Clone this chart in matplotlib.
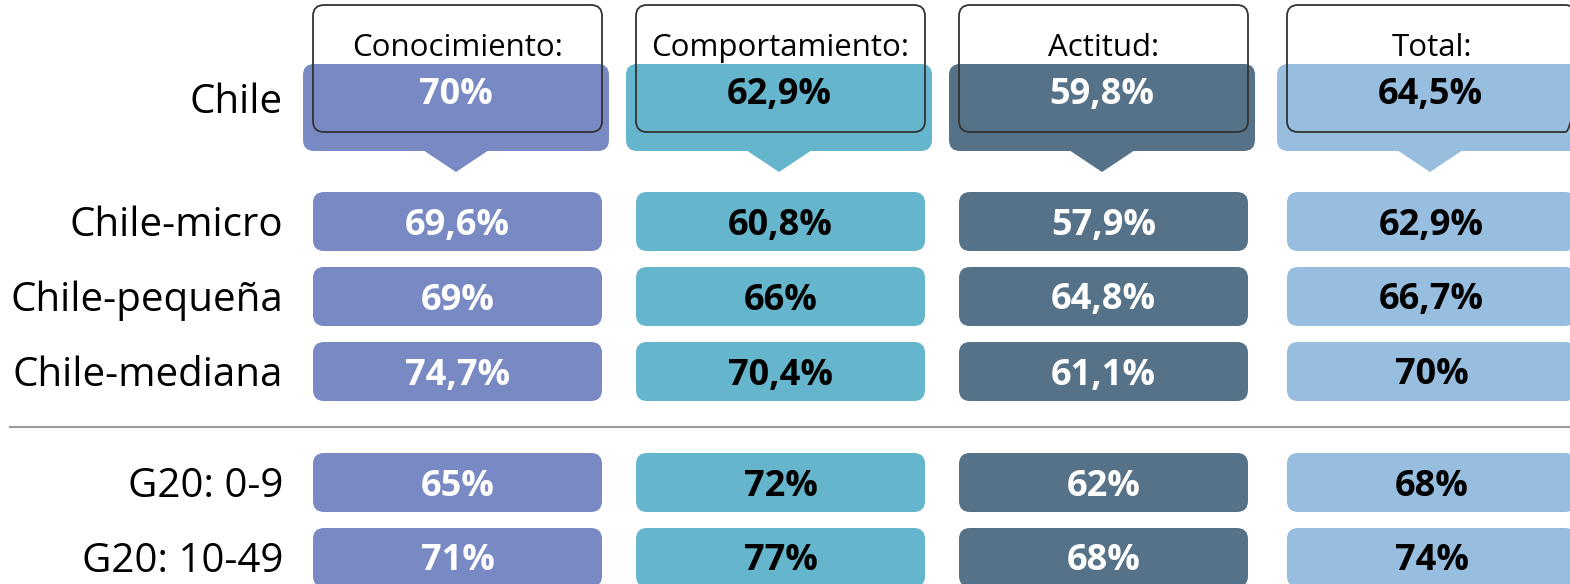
import matplotlib.pyplot as plt
from matplotlib.patches import FancyBboxPatch, Polygon

plt.rcParams["font.family"] = ["Open Sans", "DejaVu Sans"]

# data
dimensions = ["Conocimiento:", "Comportamiento:", "Actitud:", "Total:"]
headline_label = "Chile"
headline_values = ["70%", "62,9%", "59,8%", "64,5%"]
chile_labels = ["Chile-micro", "Chile-pequeña", "Chile-mediana"]
chile_values = [
    ["69,6%", "60,8%", "57,9%", "62,9%"],
    ["69%", "66%", "64,8%", "66,7%"],
    ["74,7%", "70,4%", "61,1%", "70%"],
]
g20_labels = ["G20: 0-9", "G20: 10-49"]
g20_values = [
    ["65%", "72%", "62%", "68%"],
    ["71%", "77%", "68%", "74%"],
]

# styling
fills = ["#7889c4", "#65b5cc", "#557289", "#97bddf"]
text_colors = ["white", "black", "white", "black"]

W, H = 1570, 584
fig = plt.figure(figsize=(W / 100, H / 100), dpi=100)
ax = fig.add_axes([0, 0, 1, 1])
ax.set_xlim(0, W)
ax.set_ylim(H, 0)
ax.axis("off")

col_left = [313, 636, 959, 1287]
box_w = 289
row_h = 59
label_x = 283
dy = 4  # text sits a bit below the box centre


def rounded(x, y, w, h, **kw):
    r = 11
    p = FancyBboxPatch((x + r, y + r), w - 2 * r, h - 2 * r,
                       boxstyle=f"round,pad={r},rounding_size={r}", **kw)
    ax.add_patch(p)
    return p


# headline row with callout boxes
for i, (name, val) in enumerate(zip(dimensions, headline_values)):
    bx = col_left[i] - 10
    bw = box_w + 17
    rounded(bx, 64, bw, 87, facecolor=fills[i], edgecolor="none", zorder=2)
    cx = bx + bw / 2
    ax.add_patch(Polygon([(cx - 33, 150), (cx + 33, 150), (cx, 172)],
                         closed=True, facecolor=fills[i], edgecolor="none", zorder=2))
    rounded(col_left[i], 5, box_w, 127, facecolor="none", edgecolor="#333333",
            linewidth=1.3, zorder=4)
    ax.text(col_left[i] + box_w / 2, 44 + dy, name, ha="center", va="center",
            fontsize=22.5, color="black", zorder=5)
    ax.text(cx, 92 + 3, val, ha="center", va="center", fontsize=26,
            fontweight="bold", color=text_colors[i], zorder=5)
ax.text(label_x, 100 + 3, headline_label, ha="right", va="center", fontsize=29, color="black")


def draw_rows(labels, values, top):
    for r, (lab, vals) in enumerate(zip(labels, values)):
        y = top + r * 75
        ax.text(label_x, y + row_h / 2 + dy, lab, ha="right", va="center",
                fontsize=29, color="black")
        for i, v in enumerate(vals):
            rounded(col_left[i], y, box_w, row_h, facecolor=fills[i],
                    edgecolor="none", zorder=2)
            ax.text(col_left[i] + box_w / 2, y + row_h / 2 + dy, v, ha="center",
                    va="center", fontsize=26, fontweight="bold",
                    color=text_colors[i], zorder=3)


draw_rows(chile_labels, chile_values, 192)
ax.plot([10, W], [427, 427], color="#999999", linewidth=1.5)
draw_rows(g20_labels, g20_values, 453)

fig.savefig("out.png", dpi=100)
